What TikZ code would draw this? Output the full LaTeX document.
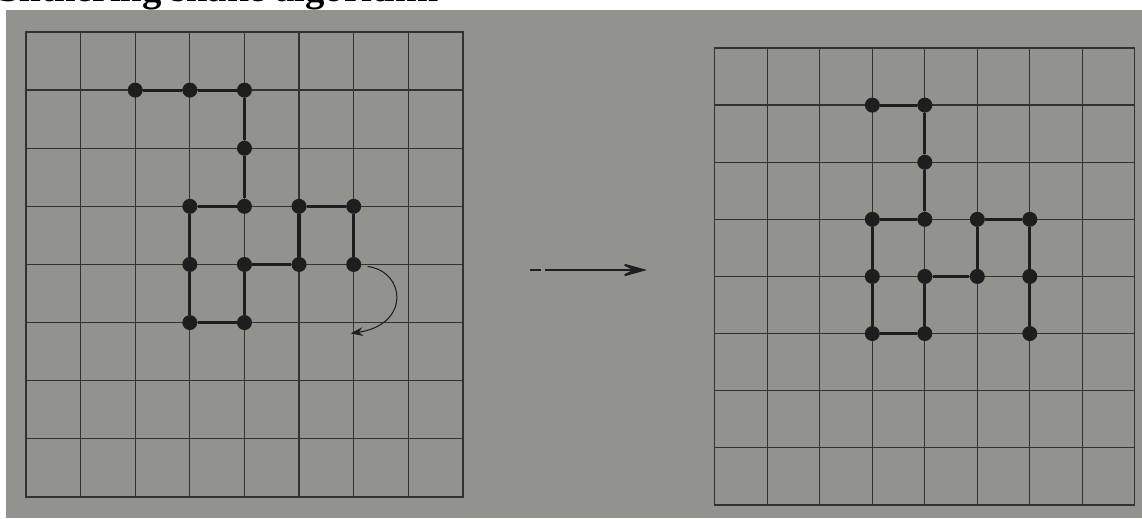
\documentclass[tikz,border=0pt]{standalone}
\usepackage{fontspec}
\setmainfont{Liberation Serif}
\usetikzlibrary{positioning, arrows.meta}
\definecolor{photo}{RGB}{146, 147, 143}
\definecolor{ink}{RGB}{30, 30, 30}
\definecolor{pencil}{RGB}{50, 50, 50}

\begin{document}
\begin{tikzpicture}[
    x=0.02cm,
    y=-0.02cm,
    gridline/.style={
        draw=pencil,
        line width=0.7pt,
        line cap=rect
    },
    bead/.style={
        circle,
        fill=ink,
        draw=none,
        inner sep=0pt,
        minimum size=0.3cm
    },
    bond/.style={draw=ink, line width=1.8pt},
    flip/.style={draw=ink, line width=0.6pt, -{Stealth[length=7pt, width=5pt]}},
    move/.style={
        draw=ink,
        line width=1.1pt,
        dash pattern=on 6pt off 2.5pt on 200pt,
        -{Stealth[length=18pt, width=10pt, inset=10pt]}
    },
    caption/.style={
        font=\fontsize{22}{26}\selectfont\bfseries,
        text=black,
        inner sep=0pt,
        anchor=base west
    }
]

\useasboundingbox (0,0) rectangle (1142,518);
\clip (0,0) rectangle (1142,518);
\fill[white] (0,0) rectangle (1142,518);
\node[caption] (title) at (-2,1.5) {Slithering snake algorithm};
\fill[photo] (6,10) rectangle (1142,518);

% before the move
\begin{scope}[shift={(0.52cm,-0.64cm)}, x=1.0925cm, y=-1.1625cm,
              on grid, node distance=1.1625cm and 1.0925cm]
\foreach \k in {0,...,8} {
    \draw[gridline] (\k,0) -- (\k,8);
    \draw[gridline] (0,\k) -- (8,\k);
}

\node[bead] (L1) at (2,1) {};
\node[bead, right=of L1] (L2) {};
\node[bead, right=of L2] (L3) {};
\node[bead, below=of L3] (L4) {};
\node[bead, below=of L4] (L5) {};
\node[bead, left=of L5] (L6) {};
\node[bead, below=of L6] (L7) {};
\node[bead, below=of L7] (L8) {};
\node[bead, right=of L8] (L9) {};
\node[bead, above=of L9] (L10) {};
\node[bead, right=of L10] (L11) {};
\node[bead, above=of L11] (L12) {};
\node[bead, right=of L12] (L13) {};
\node[bead, below=of L13] (L14) {};

\draw[bond] (L1) -- (L2) -- (L3) -- (L4) -- (L5) -- (L6) -- (L7)
    -- (L8) -- (L9) -- (L10) -- (L11) -- (L12) -- (L13) -- (L14);

\coordinate (flipA) at ([shift={(0.28cm,-0.04cm)}]L14.center);
\coordinate (flipB) at ([shift={(-0.06cm,-1.38cm)}]L14.center);
\draw[flip] (flipA) .. controls +(0.76cm,-0.1cm) and +(1.2cm,0.18cm) .. (flipB);
\end{scope}

\coordinate (moveA) at (530,270);
\coordinate (moveB) at (647,270);
\draw[move] (moveA) -- (moveB);

% after the move
\begin{scope}[shift={(14.3cm,-0.96cm)}, x=1.05cm, y=-1.1425cm,
              on grid, node distance=1.1425cm and 1.05cm]
\foreach \k in {0,...,8} {
    \draw[gridline] (\k,0) -- (\k,8);
    \draw[gridline] (0,\k) -- (8,\k);
}

\node[bead] (R1) at (3,1) {};
\node[bead, right=of R1] (R2) {};
\node[bead, below=of R2] (R3) {};
\node[bead, below=of R3] (R4) {};
\node[bead, left=of R4] (R5) {};
\node[bead, below=of R5] (R6) {};
\node[bead, below=of R6] (R7) {};
\node[bead, right=of R7] (R8) {};
\node[bead, above=of R8] (R9) {};
\node[bead, right=of R9] (R10) {};
\node[bead, above=of R10] (R11) {};
\node[bead, right=of R11] (R12) {};
\node[bead, below=of R12] (R13) {};
\node[bead, below=of R13] (R14) {};

\draw[bond] (R1) -- (R2) -- (R3) -- (R4) -- (R5) -- (R6) -- (R7)
    -- (R8) -- (R9) -- (R10) -- (R11) -- (R12) -- (R13) -- (R14);
\end{scope}

\end{tikzpicture}
\end{document}
